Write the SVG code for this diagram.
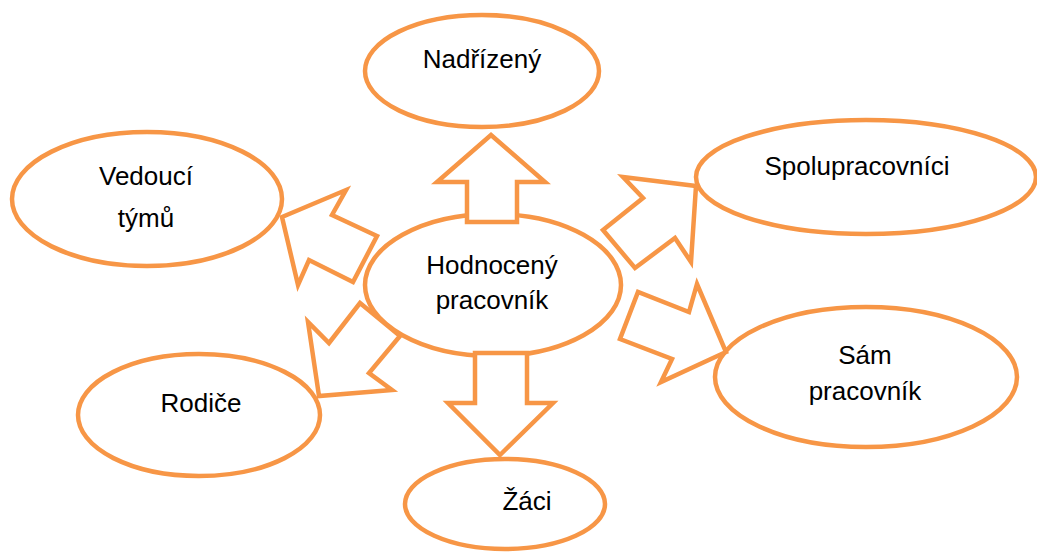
<svg xmlns="http://www.w3.org/2000/svg" width="1037" height="553" viewBox="0 0 1037 553">
<style>
.node ellipse{fill:#ffffff;stroke:#F79646;stroke-width:4.5}
.node text{font-family:"Liberation Sans",Arial,sans-serif;font-size:26px;fill:#000;text-anchor:middle}
.arrow{fill:#ffffff;stroke:#F79646;stroke-width:4.5;stroke-linejoin:miter}
</style>
<rect width="1037" height="553" fill="#ffffff"/>
<g id="nadrizeny" class="node">
<ellipse cx="482" cy="71" rx="117" ry="56"/>
<text x="482" y="68">Nadřízený</text>
</g>
<g id="vedouci" class="node">
<ellipse cx="147" cy="199" rx="135" ry="67"/>
<text x="146" y="185">Vedoucí</text>
<text x="146" y="227">týmů</text>
</g>
<g id="spolupracovnici" class="node">
<ellipse cx="866" cy="177" rx="170" ry="57"/>
<text x="857" y="175">Spolupracovníci</text>
</g>
<g id="hodnoceny" class="node">
<ellipse cx="493" cy="285" rx="128" ry="71"/>
<text x="492" y="274">Hodnocený</text>
<text x="492" y="309">pracovník</text>
</g>
<g id="sam" class="node">
<ellipse cx="866" cy="377" rx="151" ry="70"/>
<text x="865" y="364">Sám</text>
<text x="865" y="400">pracovník</text>
</g>
<g id="rodice" class="node">
<ellipse cx="199" cy="415" rx="121" ry="61"/>
<text x="201" y="412">Rodiče</text>
</g>
<g id="zaci" class="node">
<ellipse cx="505" cy="504" rx="100" ry="45"/>
<text x="527" y="510">Žáci</text>
</g>
<g id="connectors">
<polygon class="arrow" points="491,135 545,182 517,182 517,222 467,222 467,182 437,182"/>
<polygon class="arrow" points="500,455 553,403 527,403 527,353 475,353 475,403 448,403"/>
<polygon class="arrow" points="282,217 346,190 332,215 377,236 353,282 309,260 298,285"/>
<polygon class="arrow" points="696,186 691,262 675,238 635,268 603,230 643,198 623,177"/>
<polygon class="arrow" points="726,352 661,382 672,359 620,339 638,292 689,312 697,284"/>
<polygon class="arrow" points="319,396 308,322 329,343 360,303 400,336 369,373 392,390"/>
</g>
</svg>
